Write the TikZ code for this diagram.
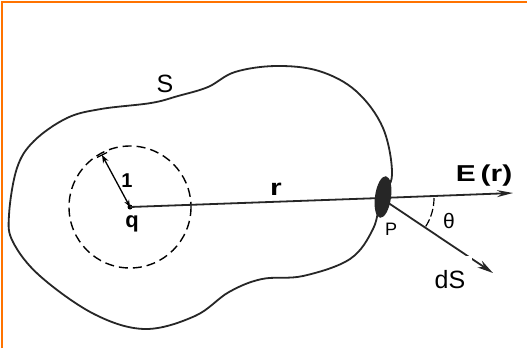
\documentclass[tikz,border=0pt]{standalone}
\usepackage{fontspec}
\setmainfont{Liberation Sans}
\usetikzlibrary{arrows.meta}
\begin{document}
\begin{tikzpicture}[x=1pt, y=-1pt]
  \tikzstyle{lbl}=[font=\fontsize{18}{18}\selectfont, inner sep=0pt]
  \tikzstyle{big}=[font=\fontsize{25}{25}\selectfont, inner sep=0pt]
  \tikzstyle{vec}=[font=\fontsize{23}{23}\selectfont\bfseries, inner sep=0pt, xscale=1.3]
  \tikzstyle{line}=[line width=1.8pt, black!85]

  % moldura
  \useasboundingbox (0,0) rectangle (527,348);
  \fill[white] (0,0) rectangle (527,348);
  \draw[orange!90!red, line width=2pt] (2,348) -- (2,1.5) -- (527,1.5);

  % superficie S
  \draw[line] plot[smooth cycle, tension=0.6] coordinates {
    (34,141) (67,118) (101,109) (151,103) (178,96) (208,87) (235,72) (276,66)
    (319,71) (356,91) (383,128) (392,175) (381,198) (373,229) (350,259)
    (303,276) (262,279) (229,292) (195,316) (145,329) (94,314) (40,276)
    (13,242) (9,215) (17,168)};
  \node[big] (S) at (165,84) {S};

  % carga e esfera unitaria
  \coordinate (q) at (130,207);
  \coordinate (P) at (381,198);
  \draw[line width=1.4pt, dash pattern=on 9pt off 5pt] (q) circle[radius=61];
  \coordinate (rim) at (102,155);
  \draw[line width=1.3pt, {Stealth[length=7pt]}-{Stealth[length=8pt]}] (q) -- (rim);
  \draw[line width=1.3pt] ([xshift=-5pt,yshift=-2.5pt]rim) -- ([xshift=5pt,yshift=2.5pt]rim);
  \fill (q) circle[radius=2.5];
  \node[lbl, font=\fontsize{20}{20}\selectfont\bfseries] (one) at (127,181) {1};
  \node[lbl, font=\fontsize{22}{22}\selectfont\bfseries] (qlbl) at (132,224) {q};

  % vetor r e ponto P
  \draw[line] (q) -- (P);
  \node[vec] (r) at (276,189) {r};
  \fill[black!85, rotate around={-8:(383,197)}] (383,197) ellipse[x radius=8, y radius=21];
  \node[lbl] (Plbl) at (391,229) {P};

  % campo E(r)
  \coordinate (Etip) at (513,193);
  \draw[line, -{Stealth[length=16pt, width=7pt]}] (P) -- (Etip);
  \node[vec] (E) at (484,176) {E\,(r)};

  % elemento dS e angulo
  \coordinate (dStip) at (493,273);
  \draw[line, -{Stealth[length=16pt, width=8pt]}] (P) -- (dStip);
  \draw[line width=1.2pt, dash pattern=on 8pt off 3pt] ([shift={(0:53)}]P) arc[start angle=0, end angle=34, radius=53];
  \node[lbl, font=\fontsize{21}{21}\selectfont] (theta) at (449,221) {θ};
  \node[big, fill=white, minimum width=44pt, minimum height=48pt] (dS) at (450,280) {dS};
\end{tikzpicture}
\end{document}
